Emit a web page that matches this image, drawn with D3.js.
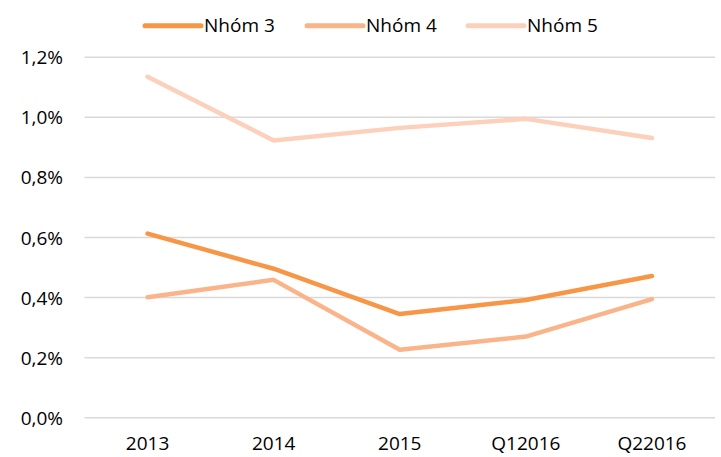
<!DOCTYPE html>
<html>
<head>
<meta charset="utf-8">
<script src="https://cdn.jsdelivr.net/npm/d3@7"></script>
<style>
  html, body { margin: 0; padding: 0; background: #fff; }
  svg { display: block; }
  text { font-family: "Open Sans", "Noto Sans", sans-serif; fill: #000; }
</style>
</head>
<body>
<svg id="chart" width="721" height="457"></svg>
<script>
const categories = ["2013", "2014", "2015", "Q12016", "Q22016"];
const seriesNames = ["Nhóm 3", "Nhóm 4", "Nhóm 5"];
const nhom3 = [0.613, 0.496, 0.345, 0.392, 0.472];
const nhom4 = [0.401, 0.459, 0.226, 0.270, 0.395];
const nhom5 = [1.135, 0.923, 0.965, 0.995, 0.931];
const yTicks = [0, 0.2, 0.4, 0.6, 0.8, 1.0, 1.2];
const colors = ["#F79646", "#FAB48A", "#FCD0BA"];

const series = [nhom3, nhom4, nhom5].map((vals, i) => ({ name: seriesNames[i], values: vals, color: colors[i] }));

const svg = d3.select("#chart");
const x = d3.scaleBand().domain(categories).range([84.5, 715]).padding(0);
const y = d3.scaleLinear().domain([0, 1.2]).range([417.7, 57.3]);

// Gridlines
svg.append("g").selectAll("line").data(yTicks).join("line")
  .attr("x1", 84.5).attr("x2", 715)
  .attr("y1", d => y(d)).attr("y2", d => y(d))
  .attr("stroke", "#d9d9d9").attr("stroke-width", 1.5);

// Y axis labels
const fmt = d => d.toFixed(1).replace(".", ",") + "%";
svg.append("g").selectAll("text").data(yTicks).join("text")
  .attr("x", 63).attr("y", d => y(d))
  .attr("text-anchor", "end").attr("dominant-baseline", "central")
  .style("font-size", "19px")
  .text(fmt);

// X axis labels
svg.append("g").selectAll("text").data(categories).join("text")
  .attr("x", d => x(d) + x.bandwidth() / 2).attr("y", 450)
  .attr("text-anchor", "middle")
  .style("font-size", "19px")
  .text(d => d);

// Lines
const line = d3.line()
  .x((d, i) => x(categories[i]) + x.bandwidth() / 2)
  .y(d => y(d));

svg.append("g").selectAll("path").data(series.slice().reverse()).join("path")
  .attr("d", d => line(d.values))
  .attr("fill", "none")
  .attr("stroke", d => d.color)
  .attr("stroke-width", 4.5)
  .attr("stroke-linecap", "round")
  .attr("stroke-linejoin", "round");

// Legend
const legendX = [145, 307, 468];
const lg = svg.append("g").selectAll("g").data(series).join("g")
  .attr("transform", (d, i) => `translate(${legendX[i]},25.7)`);
lg.append("line").attr("x1", 0).attr("x2", 56).attr("y1", 0).attr("y2", 0)
  .attr("stroke", d => d.color).attr("stroke-width", 5).attr("stroke-linecap", "round");
lg.append("text").attr("x", 59).attr("y", 6.5)
  .style("font-size", "19px")
  .text(d => d.name);
</script>
</body>
</html>
